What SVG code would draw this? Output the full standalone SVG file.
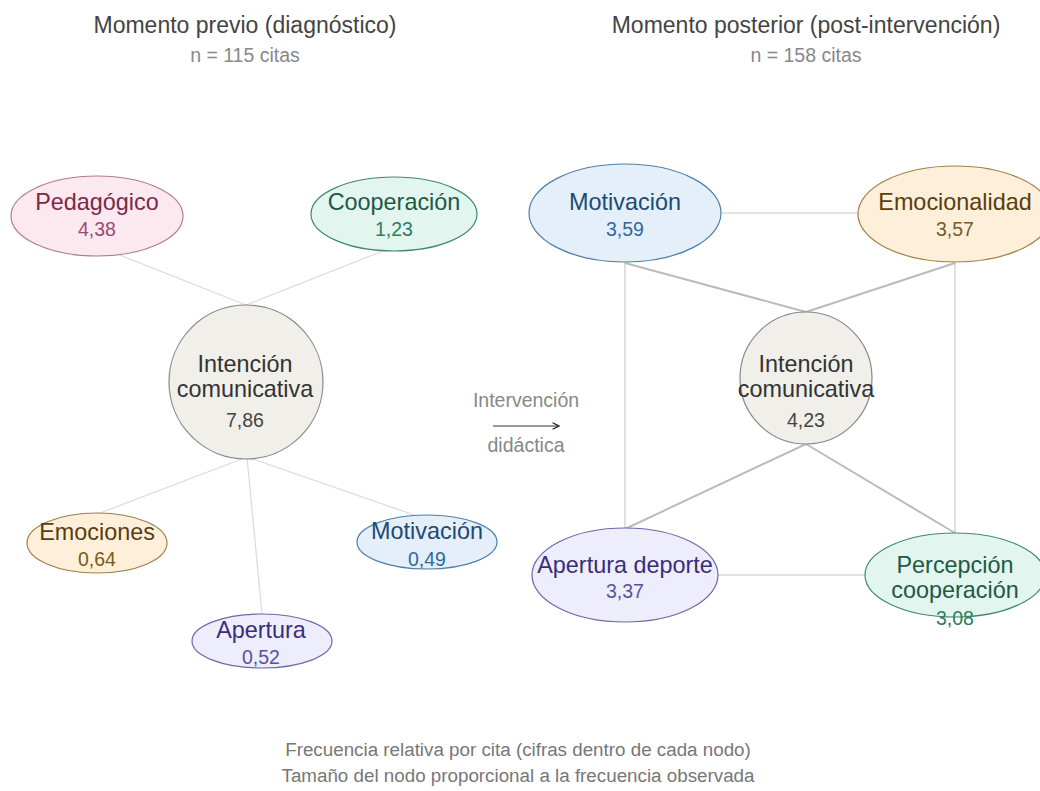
<svg xmlns="http://www.w3.org/2000/svg" width="1040" height="791" viewBox="0 0 1040 791">
<style>
text{font-family:"Liberation Sans",Arial,sans-serif;text-anchor:middle}
.title{font-size:23px;fill:#444}
.sub{font-size:19.5px;fill:#888}
.foot{font-size:18.8px;fill:#777}
.mid{font-size:19.5px;fill:#888}
.lab{font-size:23.4px}
.num{font-size:19.5px}
.e1{stroke:#ddd;stroke-width:1.3;fill:none}
.e2{stroke:#bbb;stroke-width:2;fill:none}
.e3{stroke:#d8d8d8;stroke-width:1.6;fill:none}
.pink ellipse{fill:#fce8ef;stroke:#b57a95;stroke-width:1.2}
.pink .lab{fill:#7b2a4a}.pink .num{fill:#9c4a72}
.green ellipse{fill:#e2f5ee;stroke:#3f8a6c;stroke-width:1.2}
.green .lab{fill:#1e5a44}.green .num{fill:#2e7d5e}
.grey circle{fill:#f0efea;stroke:#888;stroke-width:1.2}
.grey .lab{fill:#333}.grey .num{fill:#444}
.orange ellipse{fill:#fdefd9;stroke:#a08048;stroke-width:1.2}
.orange .lab{fill:#5a3d10}.orange .num{fill:#7a5a20}
.blue ellipse{fill:#e4effa;stroke:#4f7fa8;stroke-width:1.2}
.blue .lab{fill:#1e4a72}.blue .num{fill:#2e6a9a}
.violet ellipse{fill:#eeedfc;stroke:#6e67aa;stroke-width:1.2}
.violet .lab{fill:#3a2e7a}.violet .num{fill:#5a50a0}
</style>
<defs>
<marker id="arr" viewBox="0 0 10 10" refX="9" refY="5" markerWidth="8" markerHeight="8" orient="auto" markerUnits="userSpaceOnUse">
<path d="M1,1 L9,5 L1,9" fill="none" stroke="#222" stroke-width="1.6"/>
</marker>
</defs>
<rect width="1040" height="791" fill="#fff"/>

<g id="titles">
<text class="title" x="245" y="33">Momento previo (diagnóstico)</text>
<text class="sub" x="245" y="62">n = 115 citas</text>
<text class="title" x="806" y="33">Momento posterior (post-intervención)</text>
<text class="sub" x="806" y="62">n = 158 citas</text>
</g>

<g id="connectors">
<line class="e1" x1="97" y1="246" x2="246" y2="305"/>
<line class="e1" x1="393" y1="247" x2="246" y2="305"/>
<line class="e1" x1="247" y1="457" x2="100" y2="513"/>
<line class="e1" x1="247" y1="457" x2="262" y2="614"/>
<line class="e1" x1="247" y1="457" x2="417" y2="516"/>
<line class="e3" x1="721" y1="213" x2="859" y2="213"/>
<line class="e3" x1="625" y1="263" x2="625" y2="529"/>
<line class="e3" x1="955" y1="263" x2="955" y2="533"/>
<line class="e3" x1="718" y1="575" x2="866" y2="575"/>
<line class="e2" x1="625" y1="263" x2="806" y2="312"/>
<line class="e2" x1="955" y1="263" x2="806" y2="312"/>
<line class="e2" x1="806" y1="444" x2="625" y2="529"/>
<line class="e2" x1="806" y1="444" x2="955" y2="533"/>
</g>

<g id="intervention">
<text class="mid" x="526" y="407">Intervención</text>
<line x1="493" y1="426" x2="559" y2="426" stroke="#333" stroke-width="1.2" marker-end="url(#arr)"/>
<text class="mid" x="526" y="452">didáctica</text>
</g>

<g id="pre-pedagogico" class="pink">
<ellipse cx="97" cy="216" rx="86" ry="40"/>
<text class="lab" x="97" y="210">Pedagógico</text>
<text class="num" x="97" y="236">4,38</text>
</g>
<g id="pre-cooperacion" class="green">
<ellipse cx="394" cy="214" rx="83" ry="37"/>
<text class="lab" x="394" y="210">Cooperación</text>
<text class="num" x="394" y="236">1,23</text>
</g>
<g id="pre-intencion" class="grey">
<circle cx="246" cy="382" r="77"/>
<text class="lab" x="245" y="372">Intención</text>
<text class="lab" x="245" y="397">comunicativa</text>
<text class="num" x="245" y="427">7,86</text>
</g>
<g id="pre-emociones" class="orange">
<ellipse cx="97" cy="543" rx="70" ry="30"/>
<text class="lab" x="97" y="540">Emociones</text>
<text class="num" x="97" y="566">0,64</text>
</g>
<g id="pre-motivacion" class="blue">
<ellipse cx="427" cy="542" rx="70" ry="27"/>
<text class="lab" x="427" y="539">Motivación</text>
<text class="num" x="427" y="566">0,49</text>
</g>
<g id="pre-apertura" class="violet">
<ellipse cx="262" cy="641" rx="70" ry="27"/>
<text class="lab" x="261" y="638">Apertura</text>
<text class="num" x="261" y="664">0,52</text>
</g>

<g id="post-motivacion" class="blue">
<ellipse cx="625" cy="213" rx="96" ry="49"/>
<text class="lab" x="625" y="210">Motivación</text>
<text class="num" x="625" y="236">3,59</text>
</g>
<g id="post-emocionalidad" class="orange">
<ellipse cx="955" cy="214" rx="97" ry="48"/>
<text class="lab" x="955" y="210">Emocionalidad</text>
<text class="num" x="955" y="236">3,57</text>
</g>
<g id="post-intencion" class="grey">
<circle cx="806" cy="378" r="66"/>
<text class="lab" x="806" y="372">Intención</text>
<text class="lab" x="806" y="397">comunicativa</text>
<text class="num" x="806" y="427">4,23</text>
</g>
<g id="post-apertura" class="violet">
<ellipse cx="625" cy="575" rx="93" ry="47"/>
<text class="lab" x="625" y="573">Apertura deporte</text>
<text class="num" x="625" y="598">3,37</text>
</g>
<g id="post-percepcion" class="green">
<ellipse cx="955" cy="575" rx="90" ry="42"/>
<text class="lab" x="955" y="573">Percepción</text>
<text class="lab" x="955" y="598">cooperación</text>
<text class="num" x="955" y="625">3,08</text>
</g>

<g id="footer">
<text class="foot" x="518" y="756">Frecuencia relativa por cita (cifras dentro de cada nodo)</text>
<text class="foot" x="518" y="782">Tamaño del nodo proporcional a la frecuencia observada</text>
</g>
</svg>
